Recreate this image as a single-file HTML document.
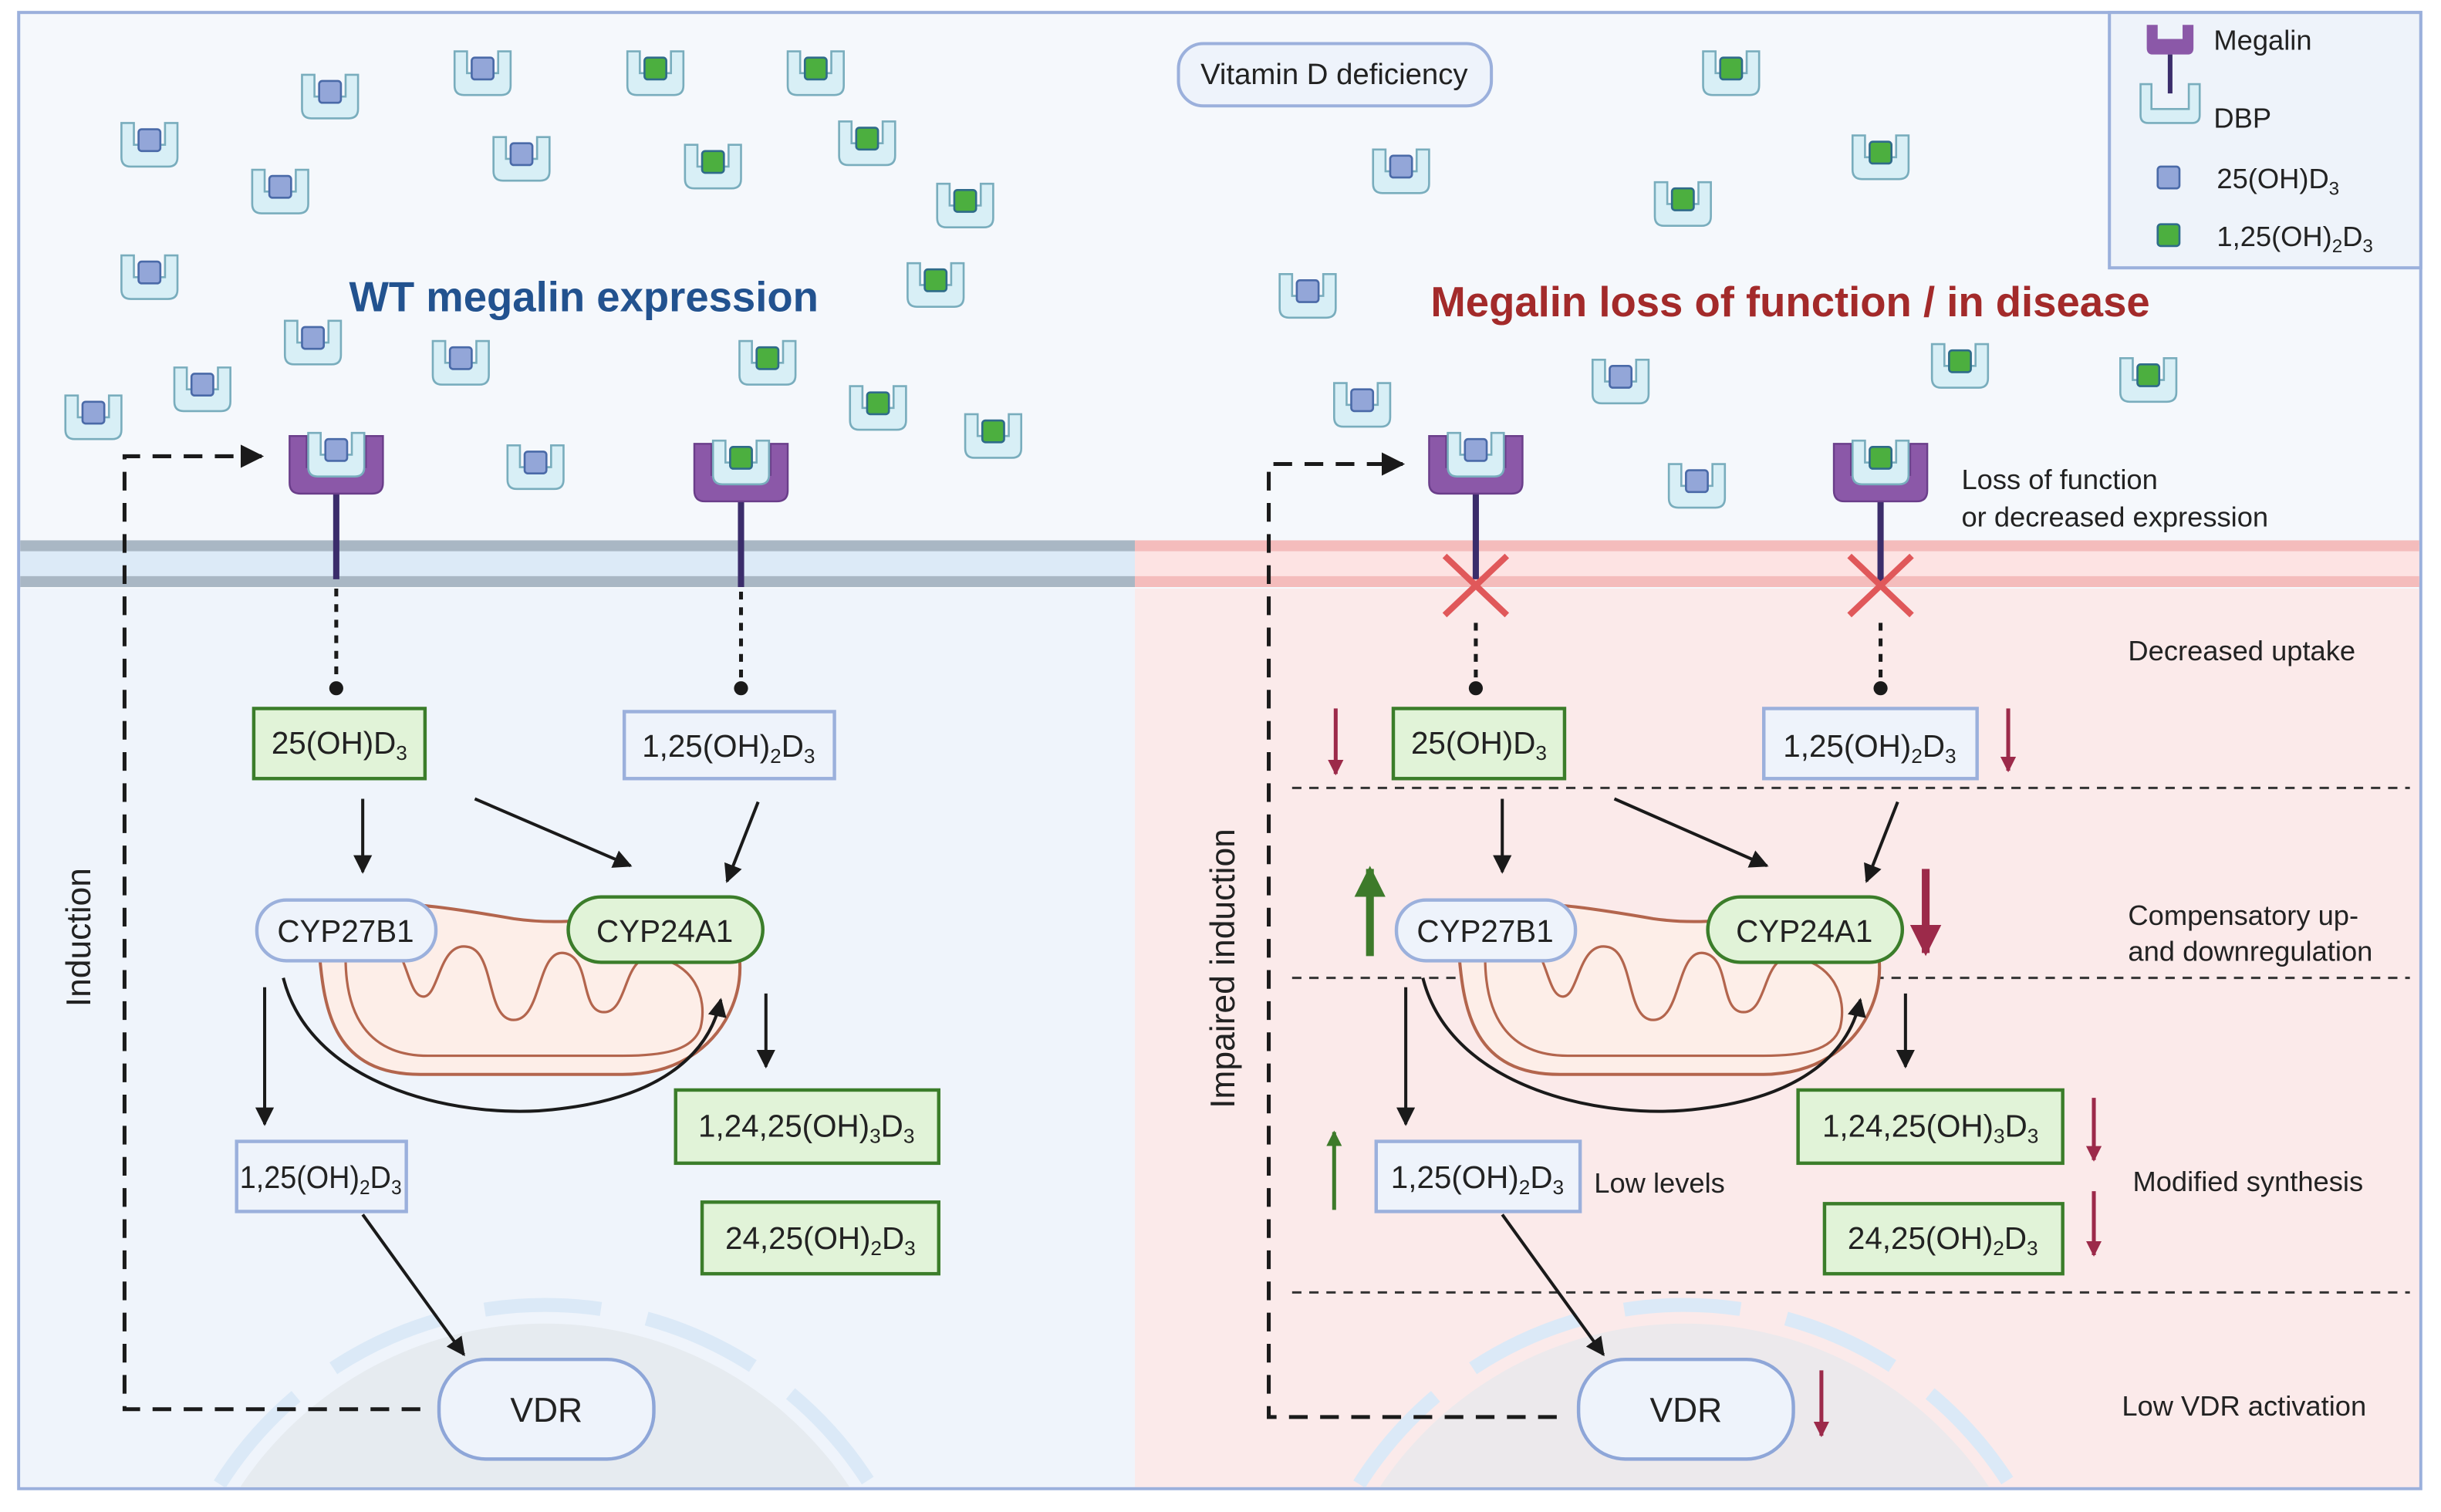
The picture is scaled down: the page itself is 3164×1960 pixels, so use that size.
<!DOCTYPE html>
<html><head><meta charset="utf-8"><style>html,body{margin:0;padding:0;background:#fff;width:3164px;height:1960px;overflow:hidden}svg{display:block}text{font-family:"Liberation Sans",sans-serif;fill:#222}</style></head><body>
<svg width="3164" height="1960" viewBox="0 0 1568 971" preserveAspectRatio="none" xmlns="http://www.w3.org/2000/svg">
<defs>
<marker id="ah" viewBox="0 0 10 10" refX="9" refY="5" markerWidth="6" markerHeight="6" orient="auto-start-reverse"><path d="M0,0L10,5L0,10z" fill="#1a1a1a"/></marker>
<marker id="ahr" viewBox="0 0 10 10" refX="9" refY="5" markerWidth="4" markerHeight="4" orient="auto"><path d="M0,0L10,5L0,10z" fill="#9c2a4a"/></marker>
<marker id="ahg" viewBox="0 0 10 10" refX="9" refY="5" markerWidth="4" markerHeight="4" orient="auto"><path d="M0,0L10,5L0,10z" fill="#3d7a2a"/></marker>
<g id="dbp"><path d="M-18,-14h8v14h20v-14h8v22q0,6 -6,6h-24q-6,0 -6,-6z" fill="#d8eff6" stroke="#79adbd" stroke-width="1.3"/></g>
<g id="db"><use href="#dbp"/><rect x="-7" y="-10" width="14" height="14" rx="2" fill="#93a6d8" stroke="#4a6aa8" stroke-width="1.3"/></g>
<g id="dg"><use href="#dbp"/><rect x="-7" y="-10" width="14" height="14" rx="2" fill="#4caf3f" stroke="#2f6b8a" stroke-width="1.3"/></g>
<g id="meg"><line x1="0" y1="16" x2="0" y2="72" stroke="#3b2d6b" stroke-width="4"/><path d="M-30,-20h11v20h38v-20h11v30q0,7 -7,7h-46q-7,0 -7,-7z" fill="#8b58a8" stroke="#6a3e8a" stroke-width="1.2"/></g>
</defs>
<rect x="0" y="0" width="1568" height="971" fill="#fff"/>
<rect x="12" y="8" width="1543" height="948" fill="#f5f8fc" stroke="#9bb0dc" stroke-width="2"/>
<rect x="13" y="378" width="716" height="577" fill="#eff4fb"/>
<rect x="729" y="378" width="825" height="577" fill="#fbeaea"/>
<rect x="13" y="350" width="716" height="24" fill="#dceaf7"/>
<rect x="13" y="347" width="716" height="7" fill="#a9b7c4"/><rect x="13" y="370" width="716" height="7" fill="#a9b7c4"/>
<rect x="729" y="350" width="825" height="24" fill="#fde3e3"/>
<rect x="729" y="347" width="825" height="7" fill="#f4bcbc"/><rect x="729" y="370" width="825" height="7" fill="#f4bcbc"/>
<clipPath id="cl"><rect x="13" y="8" width="1541" height="947"/></clipPath>
<g clip-path="url(#cl)">
<circle cx="350" cy="1085" r="235" fill="#e6ebf0"/>
<circle cx="350" cy="1085" r="247" fill="none" stroke="#dbe9f7" stroke-width="9" stroke-dasharray="75 30" stroke-dashoffset="30"/>
<circle cx="1082" cy="1085" r="235" fill="#ece9ec"/>
<circle cx="1082" cy="1085" r="247" fill="none" stroke="#dbe9f7" stroke-width="9" stroke-dasharray="75 30" stroke-dashoffset="30"/>
</g>
<rect x="1355" y="8" width="200" height="164" fill="#eef3fa" stroke="#9bb0dc" stroke-width="2"/>
<path d="M1379,16h7v9h16v-9h7v15q0,4 -4,4h-22q-4,0 -4,-4z" fill="#8b58a8"/><line x1="1394" y1="35" x2="1394" y2="60" stroke="#3b2d6b" stroke-width="3"/>
<path d="M1375,54h7v16h24v-16h7v20q0,5 -5,5h-28q-5,0 -5,-5z" fill="#d8eff6" stroke="#79adbd" stroke-width="1.3"/>
<text x="1422" y="32" font-size="18">Megalin</text>
<text x="1422" y="82" font-size="18">DBP</text>
<rect x="1386" y="107" width="14" height="14" rx="2" fill="#93a6d8" stroke="#4a6aa8" stroke-width="1.3"/>
<rect x="1386" y="144" width="14" height="14" rx="2" fill="#4caf3f" stroke="#2f6b8a" stroke-width="1.3"/>
<text x="1424" y="121" font-size="18">25(OH)D<tspan font-size="12" dy="4">3</tspan></text>
<text x="1424" y="158" font-size="18">1,25(OH)<tspan font-size="12" dy="4">2</tspan><tspan dy="-4">D</tspan><tspan font-size="12" dy="4">3</tspan></text>
<rect x="757" y="28" width="201" height="40" rx="16" fill="#eef3fb" stroke="#9bb0dc" stroke-width="2"/>
<text x="857" y="54" font-size="19" text-anchor="middle">Vitamin D deficiency</text>
<text x="375" y="200" font-size="27" font-weight="bold" text-anchor="middle" style="fill:#22528f">WT megalin expression</text>
<text x="1150" y="203" font-size="27" font-weight="bold" text-anchor="middle" style="fill:#a32a2a">Megalin loss of function / in disease</text>
<g>
<use href="#db" x="96" y="93"/><use href="#db" x="212" y="62"/><use href="#db" x="310" y="47"/><use href="#db" x="180" y="123"/><use href="#db" x="335" y="102"/><use href="#db" x="96" y="178"/><use href="#db" x="201" y="220"/><use href="#db" x="296" y="233"/><use href="#db" x="130" y="250"/><use href="#db" x="60" y="268"/><use href="#db" x="344" y="300"/>
<use href="#db" x="900" y="110"/><use href="#db" x="840" y="190"/><use href="#db" x="1041" y="245"/><use href="#db" x="875" y="260"/><use href="#db" x="1090" y="312"/>
<use href="#dg" x="421" y="47"/><use href="#dg" x="524" y="47"/><use href="#dg" x="557" y="92"/><use href="#dg" x="458" y="107"/><use href="#dg" x="620" y="132"/><use href="#dg" x="601" y="183"/><use href="#dg" x="493" y="233"/><use href="#dg" x="564" y="262"/><use href="#dg" x="638" y="280"/>
<use href="#dg" x="1112" y="47"/><use href="#dg" x="1208" y="101"/><use href="#dg" x="1081" y="131"/><use href="#dg" x="1259" y="235"/><use href="#dg" x="1380" y="244"/>
</g>
<use href="#meg" x="216" y="300"/><use href="#db" x="216" y="292"/>
<use href="#meg" x="476" y="305"/><use href="#dg" x="476" y="297"/>
<use href="#meg" x="948" y="300"/><use href="#db" x="948" y="292"/>
<use href="#meg" x="1208" y="305"/><use href="#dg" x="1208" y="297"/>
<g stroke="#e0585a" stroke-width="4"><line x1="928" y1="357" x2="968" y2="395"/><line x1="968" y1="357" x2="928" y2="395"/><line x1="1188" y1="357" x2="1228" y2="395"/><line x1="1228" y1="357" x2="1188" y2="395"/></g>
<g stroke="#1a1a1a" stroke-width="2.5" stroke-dasharray="5 5"><line x1="216" y1="378" x2="216" y2="440"/><line x1="476" y1="380" x2="476" y2="440"/><line x1="948" y1="400" x2="948" y2="440"/><line x1="1208" y1="400" x2="1208" y2="440"/></g>
<g fill="#1a1a1a"><circle cx="216" cy="442" r="4.5"/><circle cx="476" cy="442" r="4.5"/><circle cx="948" cy="442" r="4.5"/><circle cx="1208" cy="442" r="4.5"/></g>
<g stroke="#333" stroke-width="1.5" stroke-dasharray="6 5"><line x1="830" y1="506" x2="1548" y2="506"/><line x1="830" y1="628" x2="1548" y2="628"/><line x1="830" y1="830" x2="1548" y2="830"/></g>
<g id="mito">
<path d="M205,610 C200,570 260,578 330,590 C400,600 440,565 465,590 C490,620 470,690 400,690 L270,690 C215,690 208,650 205,610z" fill="#fdeee8" stroke="#b3654d" stroke-width="2"/>
<path d="M222,615 C222,600 240,598 250,605 C262,612 262,640 272,640 C282,640 282,605 300,608 C318,610 312,655 330,655 C348,655 345,610 362,612 C380,614 372,650 388,650 C404,650 400,612 420,615 C445,618 455,640 450,660 C445,675 425,678 400,678 L275,678 C235,678 222,650 222,615z" fill="none" stroke="#b3654d" stroke-width="1.6"/>
</g>
<use href="#mito" x="732" y="0"/>
<g fill="none" stroke="#1a1a1a" stroke-width="2.5" stroke-dasharray="12 8">
<path d="M270,905 H80 V293 H168" marker-end="url(#ah)"/>
<path d="M1000,910 H815 V298 H901" marker-end="url(#ah)"/>
</g>
<text transform="translate(58,602) rotate(-90)" font-size="22" text-anchor="middle">Induction</text>
<text transform="translate(793,622) rotate(-90)" font-size="22" text-anchor="middle">Impaired induction</text>
<g stroke="#1a1a1a" stroke-width="2" fill="none" marker-end="url(#ah)">
<line x1="233" y1="513" x2="233" y2="560"/><line x1="305" y1="513" x2="405" y2="556"/><line x1="487" y1="515" x2="467" y2="566"/>
<line x1="492" y1="638" x2="492" y2="685"/><line x1="170" y1="634" x2="170" y2="722"/><line x1="233" y1="780" x2="298" y2="870"/>
<path d="M182,628 C200,700 300,720 360,712 C420,705 455,680 463,642"/>
<line x1="965" y1="513" x2="965" y2="560"/><line x1="1037" y1="513" x2="1135" y2="556"/><line x1="1219" y1="515" x2="1199" y2="566"/>
<line x1="1224" y1="638" x2="1224" y2="685"/><line x1="903" y1="634" x2="903" y2="722"/><line x1="965" y1="780" x2="1030" y2="870"/>
<path d="M914,628 C932,700 1032,720 1092,712 C1152,705 1187,680 1195,642"/>
</g>
<g stroke-width="2.2">
<rect x="163" y="455" width="110" height="45" fill="#e1f3d8" stroke="#3b7d2a"/>
<rect x="401" y="457" width="135" height="43" fill="#eef3fb" stroke="#9bb0dc"/>
<rect x="895" y="455" width="110" height="45" fill="#e1f3d8" stroke="#3b7d2a"/>
<rect x="1133" y="455" width="137" height="45" fill="#eef3fb" stroke="#9bb0dc"/>
<rect x="165" y="578" width="115" height="39" rx="19" fill="#eef3fb" stroke="#9bb0dc"/>
<rect x="365" y="576" width="125" height="42" rx="21" fill="#e1f3d8" stroke="#3b7d2a"/>
<rect x="897" y="578" width="115" height="39" rx="19" fill="#eef3fb" stroke="#9bb0dc"/>
<rect x="1097" y="576" width="125" height="42" rx="21" fill="#e1f3d8" stroke="#3b7d2a"/>
<rect x="434" y="700" width="169" height="47" fill="#e1f3d8" stroke="#3b7d2a"/>
<rect x="451" y="772" width="152" height="46" fill="#e1f3d8" stroke="#3b7d2a"/>
<rect x="152" y="733" width="109" height="45" fill="#eef3fb" stroke="#9bb0dc"/>
<rect x="1155" y="700" width="170" height="47" fill="#e1f3d8" stroke="#3b7d2a"/>
<rect x="1172" y="773" width="153" height="45" fill="#e1f3d8" stroke="#3b7d2a"/>
<rect x="884" y="733" width="131" height="45" fill="#eef3fb" stroke="#9bb0dc"/>
<rect x="282" y="873" width="138" height="64" rx="30" fill="#eef3fb" stroke="#8ea6d8"/>
<rect x="1014" y="873" width="138" height="64" rx="30" fill="#eef3fb" stroke="#8ea6d8"/>
</g>
<g font-size="20" text-anchor="middle">
<text x="218" y="484">25(OH)D<tspan font-size="13" dy="4">3</tspan></text>
<text x="468" y="486">1,25(OH)<tspan font-size="13" dy="4">2</tspan><tspan dy="-4">D</tspan><tspan font-size="13" dy="4">3</tspan></text>
<text x="950" y="484">25(OH)D<tspan font-size="13" dy="4">3</tspan></text>
<text x="1201" y="486">1,25(OH)<tspan font-size="13" dy="4">2</tspan><tspan dy="-4">D</tspan><tspan font-size="13" dy="4">3</tspan></text>
<text x="222" y="605">CYP27B1</text><text x="427" y="605">CYP24A1</text>
<text x="954" y="605">CYP27B1</text><text x="1159" y="605">CYP24A1</text>
<text x="518" y="730">1,24,25(OH)<tspan font-size="13" dy="4">3</tspan><tspan dy="-4">D</tspan><tspan font-size="13" dy="4">3</tspan></text>
<text x="527" y="802">24,25(OH)<tspan font-size="13" dy="4">2</tspan><tspan dy="-4">D</tspan><tspan font-size="13" dy="4">3</tspan></text>
<text x="206" y="763" textLength="104" lengthAdjust="spacingAndGlyphs">1,25(OH)<tspan font-size="13" dy="4">2</tspan><tspan dy="-4">D</tspan><tspan font-size="13" dy="4">3</tspan></text>
<text x="1240" y="730">1,24,25(OH)<tspan font-size="13" dy="4">3</tspan><tspan dy="-4">D</tspan><tspan font-size="13" dy="4">3</tspan></text>
<text x="1248" y="802">24,25(OH)<tspan font-size="13" dy="4">2</tspan><tspan dy="-4">D</tspan><tspan font-size="13" dy="4">3</tspan></text>
<text x="949" y="763">1,25(OH)<tspan font-size="13" dy="4">2</tspan><tspan dy="-4">D</tspan><tspan font-size="13" dy="4">3</tspan></text>
<text x="351" y="913" font-size="22">VDR</text><text x="1083" y="913" font-size="22">VDR</text>
</g>
<g font-size="18">
<text x="1260" y="314">Loss of function</text><text x="1260" y="338">or decreased expression</text>
<text x="1367" y="424">Decreased uptake</text>
<text x="1367" y="594">Compensatory up-</text><text x="1367" y="617">and downregulation</text>
<text x="1370" y="765">Modified synthesis</text>
<text x="1363" y="909">Low VDR activation</text>
<text x="1024" y="766">Low levels</text>
</g>
<g stroke="#9c2a4a" stroke-width="2.5" marker-end="url(#ahr)">
<line x1="858" y1="455" x2="858" y2="497"/><line x1="1290" y1="455" x2="1290" y2="495"/>
<line x1="1345" y1="705" x2="1345" y2="745"/><line x1="1345" y1="765" x2="1345" y2="806"/><line x1="1170" y1="880" x2="1170" y2="922"/>
<line x1="1237" y1="558" x2="1237" y2="612" stroke-width="5"/>
</g>
<g stroke="#3d7a2a" stroke-width="2.5" marker-end="url(#ahg)">
<line x1="880" y1="614" x2="880" y2="558" stroke-width="5"/><line x1="857" y1="777" x2="857" y2="727"/>
</g>
</svg>
</body></html>
